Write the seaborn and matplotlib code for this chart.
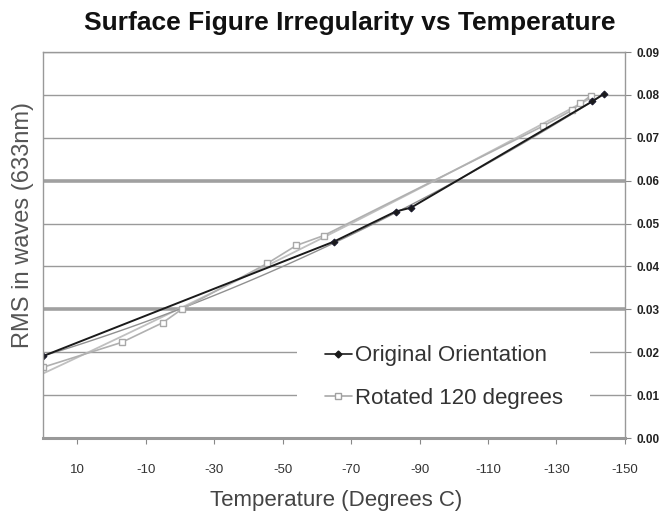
import matplotlib
matplotlib.use("Agg")
import matplotlib.pyplot as plt
import seaborn as sns
import pandas as pd
from matplotlib.lines import Line2D
from matplotlib.patches import Rectangle

# data
temp_orig = [20, -65, -83, -87.5, -140.5, -144]
rms_orig = [0.0191, 0.0458, 0.0528, 0.0537, 0.0785, 0.0803]

temp_rot = [20, -3, -15, -20.5, -45.5, -54, -62, -126, -134.5, -137, -140]
rms_rot = [0.0165, 0.0223, 0.0269, 0.0300, 0.0407, 0.0449, 0.0472, 0.0727, 0.0764, 0.0780, 0.0798]

x_ticks = [10, -10, -30, -50, -70, -90, -110, -130, -150]
y_ticks = [0.00, 0.01, 0.02, 0.03, 0.04, 0.05, 0.06, 0.07, 0.08, 0.09]

orig = pd.DataFrame({"temp": temp_orig, "rms": rms_orig})
rot = pd.DataFrame({"temp": temp_rot, "rms": rms_rot})

sns.set_style("white")
plt.rcParams["font.family"] = ["Liberation Sans", "DejaVu Sans"]

fig = plt.figure(figsize=(6.65, 5.18), dpi=100)
ax = fig.add_axes([0.0647, 0.1544, 0.875, 0.7452])

# trend lines (Excel-style polynomial fits)
sns.regplot(data=rot, x="temp", y="rms", order=2, ci=None, scatter=False,
            truncate=True, line_kws=dict(color="#c0c0c0", lw=1.3), ax=ax)
sns.regplot(data=orig, x="temp", y="rms", order=2, ci=None, scatter=False,
            truncate=True, line_kws=dict(color="#909090", lw=1.0), ax=ax)

sns.lineplot(data=rot, x="temp", y="rms", color="#b0b0b0", lw=1.2,
             marker="s", markersize=5, markerfacecolor="white",
             markeredgecolor="#a8a8a8", markeredgewidth=1, ax=ax)
sns.lineplot(data=orig, x="temp", y="rms", color="#1a1a1a", lw=1.4,
             marker="D", markersize=3.5, markeredgecolor="#1a1a2e", ax=ax)

ax.set_xlim(20, -150)
ax.set_ylim(0, 0.09)
ax.set_xticks(x_ticks)
ax.set_xticklabels([str(t) for t in x_ticks])
ax.set_yticks(y_ticks)
ax.set_yticklabels([f"{v:.2f}" for v in y_ticks])
ax.yaxis.tick_right()
ax.tick_params(axis="y", which="both", right=True, left=False, length=4,
               color="#888888", labelsize=8.5, pad=4)
ax.tick_params(axis="x", bottom=True, length=4, color="#888888",
               labelsize=9.5, labelcolor="#333333", pad=15)
for lab in ax.get_yticklabels():
    lab.set_fontweight("bold")
    lab.set_color("#222222")

# horizontal gridlines, 0.03 and 0.06 heavier
for v in y_ticks[1:]:
    heavy = v in (0.03, 0.06)
    ax.axhline(v, color="#a0a0a0" if heavy else "#9a9a9a",
               lw=2.6 if heavy else 1.0, zorder=0)

for side in ["left", "right", "top"]:
    ax.spines[side].set_color("#999999")
    ax.spines[side].set_linewidth(1.0)
ax.spines["bottom"].set_color("#999999")
ax.spines["bottom"].set_linewidth(2.2)

ax.set_xlabel("")
ax.set_ylabel("")
fig.text(0.035, 0.566, "RMS in waves (633nm)", rotation=90, ha="center",
         va="center", fontsize=17, color="#555555")
fig.text(0.505, 0.033, "Temperature (Degrees C)", ha="center", va="center",
         fontsize=16, color="#444444")
fig.text(0.526, 0.955, "Surface Figure Irregularity vs Temperature",
         ha="center", va="center", fontsize=19, fontweight="bold",
         color="#111111")

# white legend box that interrupts the gridlines
ax.add_patch(Rectangle((0.436, 0.045), 0.504, 0.235, transform=ax.transAxes,
                       facecolor="white", edgecolor="none", zorder=1))

handles = [
    Line2D([], [], color="#1a1a1a", lw=1.2, marker="D", markersize=3.5),
    Line2D([], [], color="#a8a8a8", lw=1.2, marker="s", markersize=4.5,
           markerfacecolor="white", markeredgecolor="#a0a0a0"),
]
leg = ax.legend(handles, ["Original Orientation", "Rotated 120 degrees"],
                loc="center left", bbox_to_anchor=(0.4845, 0.158),
                fontsize=16, frameon=False, handlelength=1.2,
                handletextpad=0.15, borderpad=0, labelspacing=0.95,
                borderaxespad=0)
for t in leg.get_texts():
    t.set_color("#333333")

fig.savefig("out.png", dpi=100)
